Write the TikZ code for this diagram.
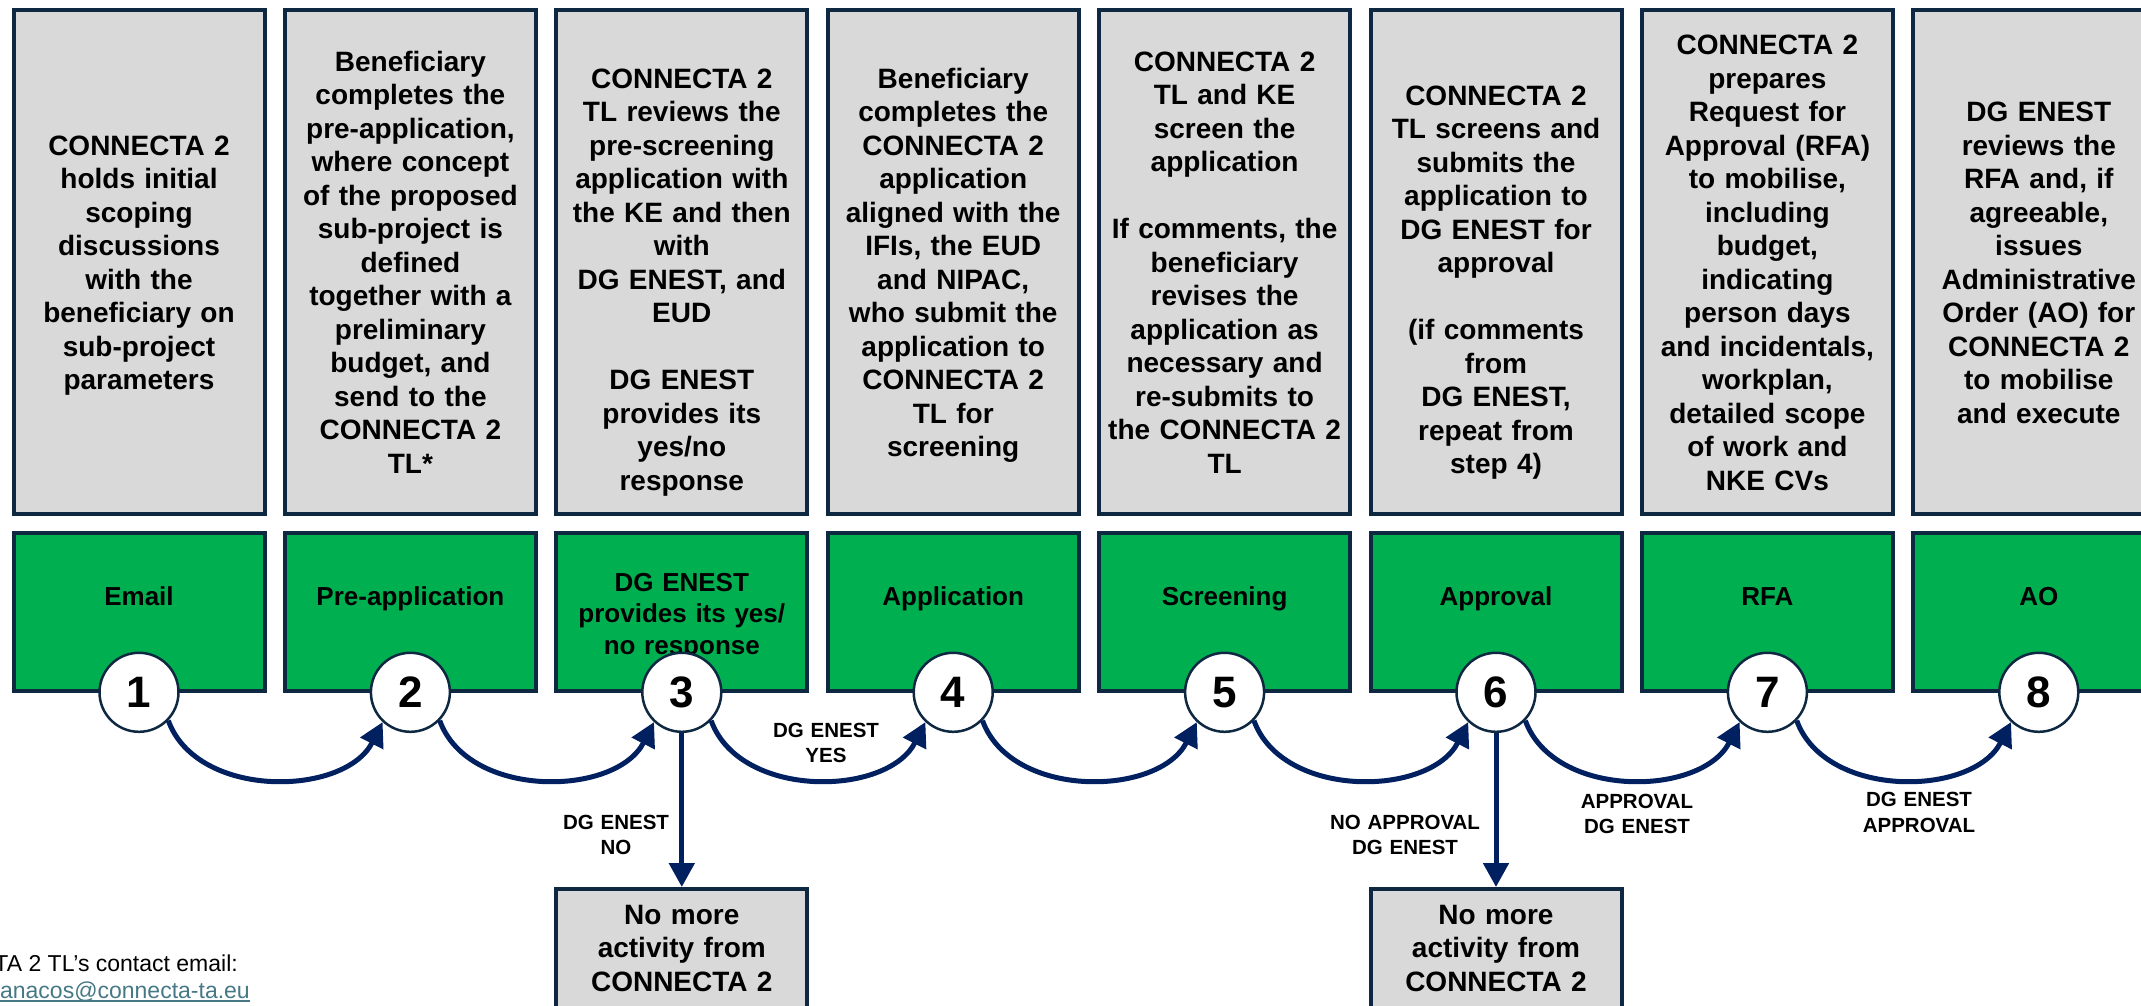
\documentclass[tikz,border=0pt]{standalone}
\usepackage{fontspec}
\setmainfont{Liberation Sans}
\usetikzlibrary{arrows.meta,calc}
\definecolor{cGray}{HTML}{D9D9D9}
\definecolor{cGreen}{HTML}{00B050}
\definecolor{cEdge}{HTML}{0E2841}
\definecolor{cArrow}{HTML}{002060}
\definecolor{cLink}{HTML}{467886}
\begin{document}
\begin{tikzpicture}[x=1pt,y=1pt,
  graybox/.style={draw=cEdge, line width=4pt, fill=cGray, minimum width=251pt, minimum height=503.5pt, inner sep=0pt},
  greenbox/.style={draw=cEdge, line width=4pt, fill=cGreen, minimum width=251pt, minimum height=158pt, inner sep=0pt},
  endbox/.style={draw=cEdge, line width=4pt, fill=cGray, minimum width=251pt, minimum height=160pt, inner sep=0pt},
  boxtext/.style={text width=262pt, align=center, inner sep=0pt, anchor=base, font=\fontsize{28pt}{33.5pt}\selectfont\bfseries},
  lbltext/.style={text width=262pt, align=center, inner sep=0pt, anchor=base, font=\fontsize{26pt}{31.5pt}\selectfont\bfseries},
  numcirc/.style={circle, draw=cEdge, line width=2.5pt, fill=white, minimum size=79pt, inner sep=0pt, font=\fontsize{44pt}{52pt}\selectfont\bfseries},
  flowarrow/.style={draw=cArrow, line width=5pt, -{Triangle[length=24pt,width=25pt]}},
  flowlbl/.style={text width=170pt, align=center, inner sep=0pt, anchor=base, font=\fontsize{20.5pt}{25.5pt}\selectfont\bfseries},
  notetext/.style={anchor=base east, inner sep=0pt, font=\fontsize{23pt}{28pt}\selectfont},
]
\useasboundingbox (0,0) rectangle (2141,-1006);
\clip (0,0) rectangle (2141,-1006);

% top grey boxes
\node[graybox] (g1) at (139,-261.75) {};
\node[graybox] (g2) at (410.4,-261.75) {};
\node[graybox] (g3) at (681.8,-261.75) {};
\node[graybox] (g4) at (953.2,-261.75) {};
\node[graybox] (g5) at (1224.6,-261.75) {};
\node[graybox] (g6) at (1496,-261.75) {};
\node[graybox] (g7) at (1767.4,-261.75) {};
\node[graybox] (g8) at (2038.8,-261.75) {};

\node[boxtext] (t1) at (139,-155.4) {CONNECTA 2\\holds initial\\scoping\\discussions\\with the\\beneficiary on\\sub-project\\parameters};
\node[boxtext] (t2) at (410.4,-71.4) {Beneficiary\\completes the\\pre-application,\\where concept\\of the proposed\\sub-project is\\defined\\together with a\\preliminary\\budget, and\\send to the\\CONNECTA 2\\TL*};
\node[boxtext] (t3) at (681.8,-88.4) {CONNECTA 2\\TL reviews the\\pre-screening\\application with\\the KE and then\\with\\DG ENEST, and\\EUD\\[33.5pt]DG ENEST\\provides its\\yes/no\\response};
\node[boxtext] (t4) at (953.2,-88.2) {Beneficiary\\completes the\\CONNECTA 2\\application\\aligned with the\\IFIs, the EUD\\and NIPAC,\\who submit the\\application to\\CONNECTA 2\\TL for\\screening};
\node[boxtext] (t5) at (1224.6,-71.4) {CONNECTA 2\\TL and KE\\screen the\\application\\[33.5pt]If comments, the\\beneficiary\\revises the\\application as\\necessary and\\re-submits to\\the CONNECTA 2\\TL};
\node[boxtext] (t6) at (1496,-105.2) {CONNECTA 2\\TL screens and\\submits the\\application to\\DG ENEST for\\approval\\[33.5pt](if comments\\from\\DG ENEST,\\repeat from\\step 4)};
\node[boxtext] (t7) at (1767.4,-54.6) {CONNECTA 2\\prepares\\Request for\\Approval (RFA)\\to mobilise,\\including\\budget,\\indicating\\person days\\and incidentals,\\workplan,\\detailed scope\\of work and\\NKE CVs};
\node[boxtext] (t8) at (2038.8,-121.8) {DG ENEST\\reviews the\\RFA and, if\\agreeable,\\issues\\Administrative\\Order (AO) for\\CONNECTA 2\\to mobilise\\and execute};

% green boxes
\node[greenbox] (s1) at (139,-612) {};
\node[greenbox] (s2) at (410.4,-612) {};
\node[greenbox] (s3) at (681.8,-612) {};
\node[greenbox] (s4) at (953.2,-612) {};
\node[greenbox] (s5) at (1224.6,-612) {};
\node[greenbox] (s6) at (1496,-612) {};
\node[greenbox] (s7) at (1767.4,-612) {};
\node[greenbox] (s8) at (2038.8,-612) {};

\node[lbltext] (l1) at (139,-605) {Email};
\node[lbltext] (l2) at (410.4,-605) {Pre-application};
\node[lbltext] (l3) at (681.8,-591) {DG ENEST\\provides its yes/\\no response};
\node[lbltext] (l4) at (953.2,-605) {Application};
\node[lbltext] (l5) at (1224.6,-605) {Screening};
\node[lbltext] (l6) at (1496,-605) {Approval};
\node[lbltext] (l7) at (1767.4,-605) {RFA};
\node[lbltext] (l8) at (2038.8,-605) {AO};

% end boxes
\node[endbox] (n3) at (681.8,-969) {};
\node[endbox] (n6) at (1496,-969) {};
\node[boxtext] (nt3) at (681.8,-924) {No more\\activity from\\CONNECTA 2};
\node[boxtext] (nt6) at (1496,-924) {No more\\activity from\\CONNECTA 2};

% numbered circles
\node[numcirc] (c1) at (139,-692.3) {1};
\node[numcirc] (c2) at (410.4,-692.3) {2};
\node[numcirc] (c3) at (681.8,-692.3) {3};
\node[numcirc] (c4) at (953.2,-692.3) {4};
\node[numcirc] (c5) at (1224.6,-692.3) {5};
\node[numcirc] (c6) at (1496,-692.3) {6};
\node[numcirc] (c7) at (1767.4,-692.3) {7};
\node[numcirc] (c8) at (2038.8,-692.3) {8};

% connectors
\draw[flowarrow] (c1.-44) to[out=-70,in=-117] (c2.-133);
\draw[flowarrow] (c2.-44) to[out=-70,in=-117] (c3.-133);
\draw[flowarrow] (c3.-44) to[out=-70,in=-117] (c4.-133);
\draw[flowarrow] (c4.-44) to[out=-70,in=-117] (c5.-133);
\draw[flowarrow] (c5.-44) to[out=-70,in=-117] (c6.-133);
\draw[flowarrow] (c6.-44) to[out=-70,in=-117] (c7.-133);
\draw[flowarrow] (c7.-44) to[out=-70,in=-117] (c8.-133);
\draw[flowarrow] (c3.south) -- (n3.north);
\draw[flowarrow] (c6.south) -- (n6.north);

% connector labels
\node[flowlbl] (a3no) at (616,-829) {DG ENEST\\NO};
\node[flowlbl] (a34) at (826,-737) {DG ENEST\\YES};
\node[flowlbl] (a6no) at (1405,-829) {NO APPROVAL\\DG ENEST};
\node[flowlbl] (a67) at (1637,-808) {APPROVAL\\DG ENEST};
\node[flowlbl] (a78) at (1919,-806.5) {DG ENEST\\APPROVAL};

% contact note
\node[notetext] (contact) at (238,-971.5) {TA 2 TL’s contact email:};
\node[notetext, text=cLink] (email) at (250,-998) {anacos@connecta-ta.eu};
\draw[cLink, line width=1.3pt] ($(email.base west)+(0,-3)$) -- ($(email.base east)+(0,-3)$);
\end{tikzpicture}
\end{document}
